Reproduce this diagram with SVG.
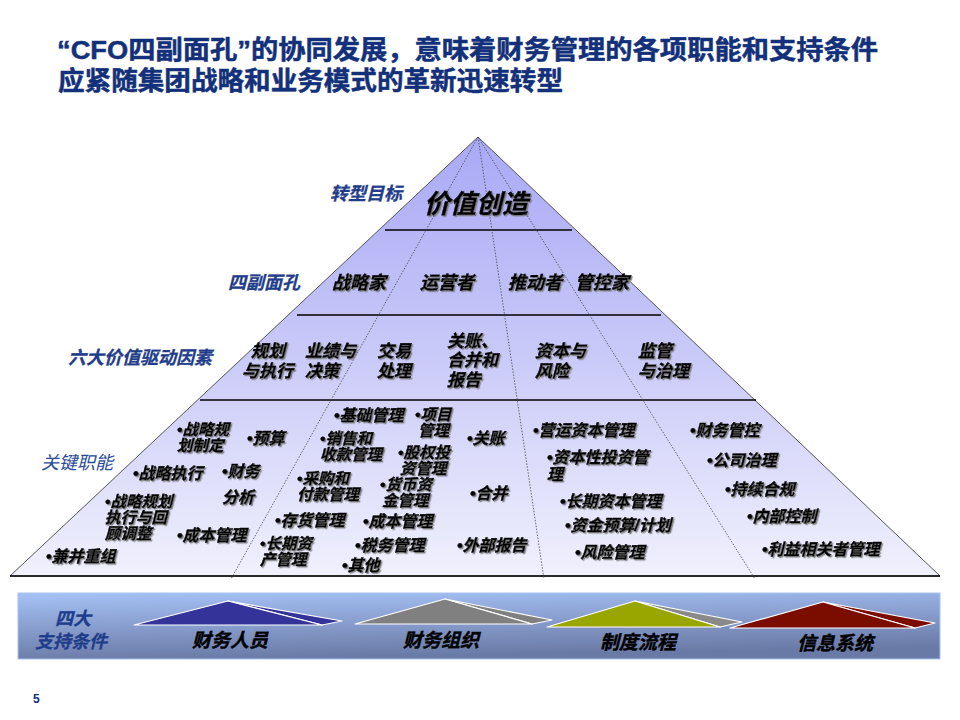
<svg xmlns="http://www.w3.org/2000/svg" width="960" height="720" viewBox="0 0 960 720">
<defs>
<linearGradient id="pyr" gradientUnits="userSpaceOnUse" x1="0" y1="137" x2="0" y2="576">
<stop offset="0" stop-color="#a9a9f6"/>
<stop offset="0.45" stop-color="#c6c6f8"/>
<stop offset="1" stop-color="#f0f0fd"/>
</linearGradient>
<linearGradient id="bar" x1="0" y1="0" x2="0.25" y2="1">
<stop offset="0" stop-color="#a6c2f6"/>
<stop offset="1" stop-color="#6a7aa6"/>
</linearGradient>
<filter id="sh" x="-10%" y="-20%" width="130%" height="150%">
<feDropShadow dx="1.3" dy="1.3" stdDeviation="0.4" flood-color="#777" flood-opacity="0.9"/>
</filter>
<style>
text{font-family:"Liberation Sans","Noto Sans CJK SC",sans-serif;}
.title{font-size:26px;font-weight:700;fill:#13307a;stroke:#13307a;stroke-width:0.5;}
.lab{font-size:18px;font-weight:700;font-style:italic;fill:#1f3d8a;stroke:#1f3d8a;stroke-width:0.3;}
.lab2{font-size:18px;font-weight:400;font-style:italic;fill:#2a4a9a;}
.t{font-weight:700;font-style:italic;fill:#000;stroke:#000;stroke-width:0.45;filter:url(#sh);}
.big{font-size:26px;}
.r2{font-size:18px;}
.r3{font-size:17px;}
.r4{font-size:16px;}
.m{font-size:15.5px;}
.hl{stroke:#000;stroke-width:1.5;}
.dl{stroke:#444;stroke-width:0.8;stroke-dasharray:1.5 1.5;fill:none;}
.sup{stroke:#fff;stroke-width:1.2;stroke-linejoin:round;}
.sl{font-size:19px;font-weight:700;font-style:italic;fill:#000;stroke:#000;stroke-width:0.4;}
</style>
</defs>
<rect width="960" height="720" fill="#fff"/>

<g id="title">
<text class="title" x="57" y="59" textLength="821" lengthAdjust="spacingAndGlyphs">“CFO四副面孔”的协同发展，意味着财务管理的各项职能和支持条件</text>
<text class="title" x="58" y="90" textLength="505" lengthAdjust="spacingAndGlyphs">应紧随集团战略和业务模式的革新迅速转型</text>
</g>

<g id="pyramid">
<polygon points="478,137 940,576 10,576" fill="url(#pyr)" stroke="#555" stroke-width="1"/>
<line class="hl" x1="10" y1="576" x2="940" y2="576"/>
</g>

<g id="connectors">
<line class="hl" x1="385" y1="230" x2="572" y2="230"/>
<line class="hl" x1="297" y1="315" x2="661" y2="315"/>
<line class="hl" x1="200" y1="400" x2="756" y2="400"/>
<line class="dl" x1="478" y1="137" x2="231" y2="579"/>
<line class="dl" x1="478" y1="137" x2="544" y2="579"/>
<line class="dl" x1="478" y1="137" x2="755" y2="579"/>
</g>

<g id="labels">
<text class="lab" x="330" y="200" font-size="17">转型目标</text>
<text class="lab" x="228" y="289">四副面孔</text>
<text class="lab" x="68" y="364">六大价值驱动因素</text>
<text class="lab2" x="41" y="469">关键职能</text>
</g>

<g id="goal">
<text class="t big" x="424" y="213">价值创造</text>
</g>

<g id="faces">
<text class="t r2" x="332" y="289">战略家</text>
<text class="t r2" x="420" y="289">运营者</text>
<text class="t r2" x="508" y="289">推动者</text>
<text class="t r2" x="575" y="289">管控家</text>
</g>

<g id="drivers">
<text class="t r3"><tspan x="251" y="357">规划</tspan><tspan x="242" y="377">与执行</tspan></text>
<text class="t r3"><tspan x="305" y="357">业绩与</tspan><tspan x="305" y="377">决策</tspan></text>
<text class="t r3"><tspan x="377" y="357">交易</tspan><tspan x="377" y="377">处理</tspan></text>
<text class="t r3"><tspan x="447" y="347">关账、</tspan><tspan x="447" y="366">合并和</tspan><tspan x="447" y="386">报告</tspan></text>
<text class="t r3"><tspan x="535" y="357">资本与</tspan><tspan x="535" y="377">风险</tspan></text>
<text class="t r3"><tspan x="638" y="357">监管</tspan><tspan x="638" y="377">与治理</tspan></text>
</g>

<g id="functions-strategy">
<text class="t m"><tspan x="177" y="435">•战略规</tspan><tspan x="177" y="451">划制定</tspan></text>
<text class="t r4" x="247" y="444">•预算</text>
<text class="t r4" x="133" y="479">•战略执行</text>
<text class="t r4"><tspan x="222" y="477">•财务</tspan><tspan x="222" y="503">分析</tspan></text>
<text class="t m"><tspan x="105" y="507">•战略规划</tspan><tspan x="105" y="523">执行与回</tspan><tspan x="105" y="539">顾调整</tspan></text>
<text class="t r4" x="177" y="541">•成本管理</text>
<text class="t r4" x="46" y="562">•兼并重组</text>
</g>

<g id="functions-operations">
<text class="t r4" x="334" y="421">•基础管理</text>
<text class="t m"><tspan x="415" y="420">•项目</tspan><tspan x="418" y="436">管理</tspan></text>
<text class="t m"><tspan x="320" y="444">•销售和</tspan><tspan x="320" y="460">收款管理</tspan></text>
<text class="t r4" x="467" y="444">•关账</text>
<text class="t m"><tspan x="398" y="458">•股权投</tspan><tspan x="400" y="474">资管理</tspan></text>
<text class="t m"><tspan x="297" y="484">•采购和</tspan><tspan x="297" y="500">付款管理</tspan></text>
<text class="t m"><tspan x="380" y="490">•货币资</tspan><tspan x="382" y="506">金管理</tspan></text>
<text class="t r4" x="470" y="499">•合并</text>
<text class="t r4" x="275" y="526">•存货管理</text>
<text class="t r4" x="363" y="527">•成本管理</text>
<text class="t m"><tspan x="260" y="549">•长期资</tspan><tspan x="260" y="565">产管理</tspan></text>
<text class="t r4" x="355" y="551">•税务管理</text>
<text class="t r4" x="342" y="571">•其他</text>
<text class="t r4" x="457" y="551">•外部报告</text>
</g>

<g id="functions-capital">
<text class="t r4" x="533" y="436">•营运资本管理</text>
<text class="t r4"><tspan x="547" y="463">•资本性投资管</tspan><tspan x="547" y="480">理</tspan></text>
<text class="t r4" x="560" y="507">•长期资本管理</text>
<text class="t r4" x="565" y="531">•资金预算/计划</text>
<text class="t r4" x="575" y="558">•风险管理</text>
</g>

<g id="functions-governance">
<text class="t r4" x="690" y="436">•财务管控</text>
<text class="t r4" x="707" y="466">•公司治理</text>
<text class="t r4" x="725" y="495">•持续合规</text>
<text class="t r4" x="747" y="522">•内部控制</text>
<text class="t r4" x="762" y="555">•利益相关者管理</text>
</g>

<g id="support-bar">
<rect x="18" y="593" width="922" height="66" fill="url(#bar)" stroke="#a8c4f0" stroke-width="1"/>
<text class="lab" font-size="19"><tspan x="55" y="625">四大</tspan><tspan x="35" y="648">支持条件</tspan></text>
</g>

<g id="support-people">
<polygon class="sup" points="228,601 342,621 322,625" fill="#333399"/>
<polygon class="sup" points="134,625 228,601 322,625" fill="#333399"/>
<text class="sl" x="192" y="647">财务人员</text>
</g>
<g id="support-org">
<polygon class="sup" points="445,599 552,620 532,624" fill="#808080"/>
<polygon class="sup" points="355,624 445,599 532,624" fill="#808080"/>
<text class="sl" x="403" y="647">财务组织</text>
</g>
<g id="support-process">
<polygon class="sup" points="635,601 742,622 720,627" fill="#8a8a8a"/>
<polygon class="sup" points="547,627 635,601 720,627" fill="#99a600"/>
<text class="sl" x="600" y="649">制度流程</text>
</g>
<g id="support-systems">
<polygon class="sup" points="823,602 935,623 915,628" fill="#7a0c00"/>
<polygon class="sup" points="730,628 823,602 915,628" fill="#7a0c00"/>
<text class="sl" x="797" y="650">信息系统</text>
</g>

<text x="33" y="703" font-size="12" font-weight="700" fill="#13307a">5</text>
</svg>
